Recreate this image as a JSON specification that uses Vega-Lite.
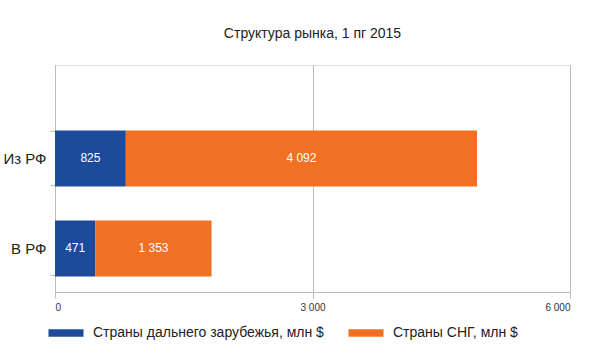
{
  "$schema": "https://vega.github.io/schema/vega-lite/v6.json",
  "width": 515,
  "height": 227,
  "autosize": {"type": "none"},
  "padding": {"left": 55, "top": 65, "right": 30, "bottom": 69},
  "background": "white",
  "title": {"text": "Структура рынка, 1 пг 2015", "font": "Liberation Sans", "fontSize": 14, "fontWeight": "normal", "color": "#222222", "offset": 17},
  "data": {"values": [
    {"dir": "Из РФ", "series": "Страны дальнего зарубежья, млн $", "value": 825, "ord": 1, "label": "825"},
    {"dir": "Из РФ", "series": "Страны СНГ, млн $", "value": 4092, "ord": 2, "label": "4 092"},
    {"dir": "В РФ", "series": "Страны дальнего зарубежья, млн $", "value": 471, "ord": 1, "label": "471"},
    {"dir": "В РФ", "series": "Страны СНГ, млн $", "value": 1353, "ord": 2, "label": "1 353"}
  ]},
  "encoding": {
    "y": {"field": "dir", "type": "nominal", "sort": ["Из РФ", "В РФ"],
      "scale": {"paddingInner": 0.4, "paddingOuter": 0.461, "align": 0.8},
      "axis": {"title": null, "domain": true, "domainColor": "#bbbbbb", "ticks": true, "tickColor": "#bbbbbb", "tickBand": "extent", "tickSize": 5, "labelFont": "Liberation Sans", "labelFontSize": 15, "labelColor": "#222222", "labelPadding": 4}},
    "x": {"field": "value", "type": "quantitative", "stack": "zero",
      "scale": {"domain": [0, 6000]},
      "axis": {"title": null, "values": [0, 3000, 6000], "labelExpr": "replace(format(datum.value, ','), ',', ' ')", "domain": true, "domainColor": "#bbbbbb", "ticks": true, "tickColor": "#bbbbbb", "tickSize": 6, "grid": true, "gridColor": "#bbbbbb", "labelFont": "Liberation Sans", "labelFontSize": 10, "labelColor": "#333333", "labelPadding": 4}},
    "order": {"field": "ord", "type": "quantitative"}
  },
  "layer": [
    {"mark": {"type": "bar", "size": 56},
      "encoding": {"color": {"field": "series", "type": "nominal",
        "scale": {"domain": ["Страны дальнего зарубежья, млн $", "Страны СНГ, млн $"], "range": ["#1d4a9a", "#f07124"]},
        "legend": {"title": null, "orient": "bottom", "direction": "horizontal", "symbolType": "M-1.6,-0.35H1.6V0.35H-1.6Z", "symbolSize": 480, "symbolStrokeWidth": 0, "labelOffset": 16, "labelFont": "Liberation Sans", "labelFontSize": 14, "labelColor": "#222222", "labelLimit": 0, "columnPadding": 24, "offset": 10}}}},
    {"mark": {"type": "text", "color": "white", "font": "Liberation Sans", "fontSize": 12},
      "encoding": {"x": {"field": "value", "type": "quantitative", "stack": "zero", "bandPosition": 0.5}, "text": {"field": "label"}}}
  ]
}
